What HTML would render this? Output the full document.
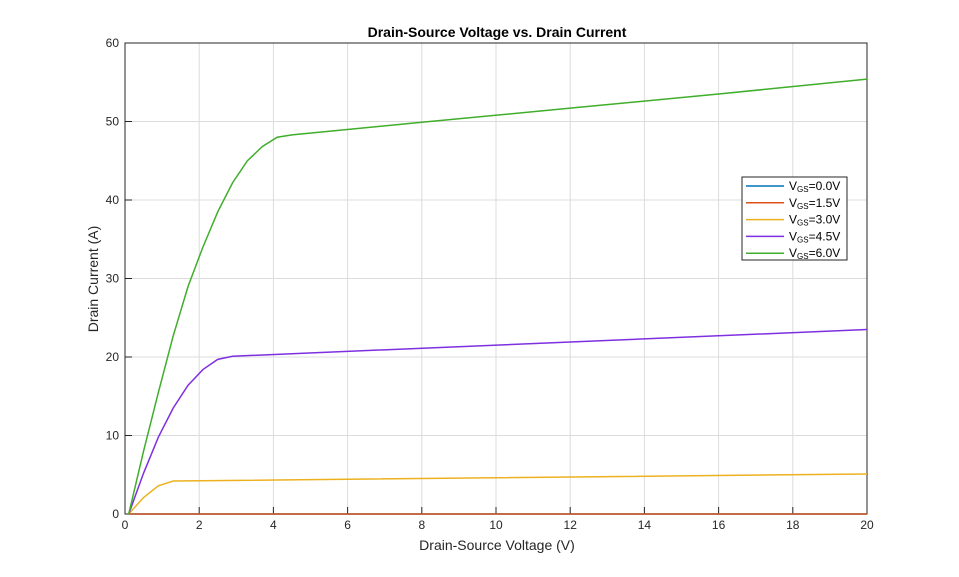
<!DOCTYPE html>
<html><head><style>body{margin:0;background:#fff}svg{display:block;font-family:"Liberation Sans",sans-serif}</style></head>
<body>
<svg id="s" width="959" height="577" viewBox="0 0 959 577" xmlns="http://www.w3.org/2000/svg">
<rect width="959" height="577" fill="#fff"/>
<g id="grid" stroke="#dcdcdc" stroke-width="1"></g>
<rect x="125" y="43" width="742" height="471" fill="none" stroke="#262626" stroke-width="1"/>
<g id="ticks" stroke="#262626"></g>
<g id="lab" font-size="12" fill="#262626"></g>
<g id="lines" fill="none" stroke-width="1.5"></g>
<text x="497" y="37" text-anchor="middle" font-size="14" font-weight="bold" fill="#000">Drain-Source Voltage vs. Drain Current</text>
<text x="497" y="550" text-anchor="middle" font-size="14" fill="#262626">Drain-Source Voltage (V)</text>
<text transform="translate(98,279) rotate(-90)" text-anchor="middle" font-size="14" fill="#262626">Drain Current (A)</text>
<rect x="742" y="177" width="105" height="83" fill="#fff" stroke="#262626"/>
<g id="leg" font-size="12" fill="#000"></g>
</svg>
<script>
const X=v=>125+37.1*v, Y=i=>514-7.85*i, ns="http://www.w3.org/2000/svg";
function el(p,t,a,txt){const e=document.createElementNS(ns,t);for(const k in a)e.setAttribute(k,a[k]);if(txt!==undefined)e.innerHTML=txt;document.getElementById(p).appendChild(e);}
for(let v=2;v<20;v+=2)el('grid','line',{x1:X(v),x2:X(v),y1:43,y2:514});
for(let i=10;i<60;i+=10)el('grid','line',{x1:125,x2:867,y1:Y(i),y2:Y(i)});
for(let v=0;v<=20;v+=2){el('ticks','line',{x1:X(v),x2:X(v),y1:514,y2:507});el('lab','text',{x:X(v),y:529,'text-anchor':'middle'},v);}
for(let i=0;i<=60;i+=10){el('ticks','line',{x1:125,x2:132,y1:Y(i),y2:Y(i)});el('lab','text',{x:119,y:Y(i)+4,'text-anchor':'end'},i);}
const S=[
['#0072bd',[[0.1,0],[20,0]]],
['#d95319',[[0.1,0],[20,0]]],
['#edb120',[[0.1,0],[0.5,2.1],[0.9,3.6],[1.3,4.2],[20,5.1]]],
['#7e2fdf',[[0.1,0],[0.5,5.2],[0.9,9.8],[1.3,13.5],[1.7,16.4],[2.1,18.4],[2.5,19.7],[2.9,20.1],[20,23.5]]],
['#3fae2a',[[0.1,0],[0.5,8],[0.9,15.5],[1.3,22.7],[1.7,29],[2.1,34],[2.5,38.5],[2.9,42.2],[3.3,45],[3.7,46.8],[4.1,48],[4.5,48.3],[8,49.9],[12,51.7],[16,53.5],[20,55.4]]]];
const names=['0.0','1.5','3.0','4.5','6.0'];
S.forEach(([c,p],k)=>{el('lines','polyline',{stroke:c,points:p.map(q=>X(q[0])+','+Y(q[1])).join(' ')});
const y=186+16.8*k;el('leg','line',{x1:746,x2:784,y1:y,y2:y,stroke:c,'stroke-width':1.5});
el('leg','text',{x:789,y:y+4},'V<tspan font-size="8" dy="2">GS</tspan><tspan dy="-2">='+names[k]+'V</tspan>');});
</script>
</body></html>
